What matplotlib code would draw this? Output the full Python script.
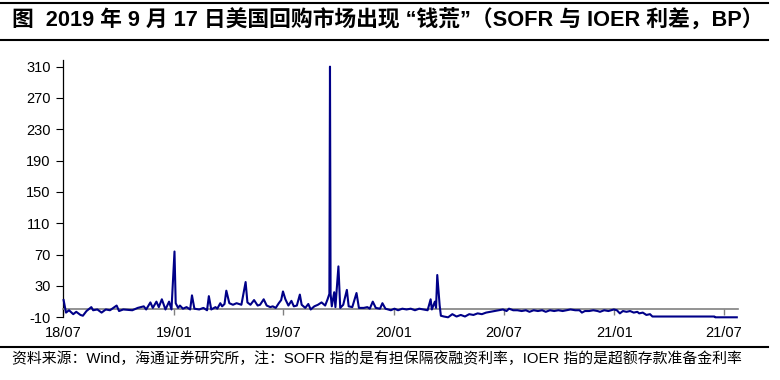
import pandas as pd
import matplotlib
matplotlib.use("Agg")
import matplotlib.pyplot as plt
from matplotlib.lines import Line2D

plt.rcParams['font.family'] = ['Liberation Sans', 'Noto Sans CJK SC']
plt.rcParams['axes.unicode_minus'] = False

# SOFR - IOER 利差 (BP), 读图估计
dates = [
    "2018-07-02", "2018-07-06", "2018-07-11", "2018-07-18", "2018-07-23", "2018-07-30",
    "2018-08-03", "2018-08-09", "2018-08-17", "2018-08-20", "2018-08-27", "2018-09-03",
    "2018-09-10", "2018-09-17", "2018-09-28", "2018-10-02", "2018-10-09", "2018-10-24",
    "2018-11-02", "2018-11-12", "2018-11-16", "2018-11-23", "2018-11-27", "2018-12-03",
    "2018-12-07", "2018-12-12", "2018-12-18", "2018-12-24", "2018-12-28",
    "2019-01-02", "2019-01-04", "2019-01-08", "2019-01-11", "2019-01-16", "2019-01-22",
    "2019-01-28", "2019-01-31", "2019-02-04", "2019-02-12", "2019-02-19", "2019-02-25",
    "2019-02-28", "2019-03-04", "2019-03-11", "2019-03-14", "2019-03-19", "2019-03-22",
    "2019-03-26", "2019-03-29", "2019-04-03", "2019-04-09", "2019-04-15", "2019-04-23",
    "2019-04-30", "2019-05-03", "2019-05-08", "2019-05-14", "2019-05-20", "2019-05-24",
    "2019-05-30", "2019-06-04", "2019-06-10", "2019-06-14", "2019-06-19", "2019-06-24",
    "2019-06-28", "2019-07-01", "2019-07-05", "2019-07-10", "2019-07-15", "2019-07-19",
    "2019-07-24", "2019-07-29", "2019-08-01", "2019-08-07", "2019-08-12", "2019-08-16",
    "2019-08-22", "2019-08-28", "2019-09-03", "2019-09-09", "2019-09-13", "2019-09-16",
    "2019-09-17", "2019-09-18", "2019-09-20", "2019-09-24", "2019-09-26", "2019-10-01",
    "2019-10-04", "2019-10-09", "2019-10-15", "2019-10-18", "2019-10-24", "2019-10-31",
    "2019-11-04", "2019-11-12", "2019-11-18", "2019-11-22", "2019-11-27", "2019-12-02",
    "2019-12-09", "2019-12-13", "2019-12-18", "2019-12-27",
    "2020-01-02", "2020-01-08", "2020-01-15", "2020-01-22", "2020-01-29", "2020-02-05",
    "2020-02-12", "2020-02-19", "2020-02-26", "2020-03-02", "2020-03-04", "2020-03-09",
    "2020-03-11", "2020-03-13", "2020-03-17", "2020-03-19", "2020-03-24", "2020-03-31",
    "2020-04-07", "2020-04-14", "2020-04-21", "2020-04-28", "2020-05-05", "2020-05-12",
    "2020-05-19", "2020-05-26", "2020-06-02", "2020-06-09", "2020-06-16", "2020-06-23",
    "2020-06-30", "2020-07-06", "2020-07-10", "2020-07-17", "2020-07-24", "2020-07-31",
    "2020-08-07", "2020-08-13", "2020-08-20", "2020-08-27", "2020-09-03", "2020-09-09",
    "2020-09-16", "2020-09-23", "2020-09-30", "2020-10-07", "2020-10-14", "2020-10-20",
    "2020-10-28", "2020-11-04", "2020-11-08", "2020-11-13", "2020-11-20", "2020-11-27",
    "2020-12-04", "2020-12-08", "2020-12-15", "2020-12-22", "2020-12-31",
    "2021-01-05", "2021-01-10", "2021-01-15", "2021-01-21", "2021-01-27", "2021-02-02",
    "2021-02-08", "2021-02-11", "2021-02-17", "2021-02-23", "2021-03-01", "2021-03-05",
    "2021-03-15", "2021-04-15", "2021-05-17", "2021-06-16", "2021-06-17", "2021-07-23",
]
spread = [
    12, -4, -1, -6, -3, -7,
    -8, -2, 3, -1, 0, -4,
    0, -1, 5, -2, 0, -1,
    2, 4, 0, 9, 2, 10,
    3, 13, 0, 10, 0,
    74, 8, 2, 5, 1, 3,
    0, 18, 1, 0, 2, -1,
    17, 0, 3, 1, 8, 4,
    7, 24, 8, 6, 8, 6,
    35, 9, 6, 12, 5, 6,
    13, 5, 3, 4, 2, 8,
    12, 23, 13, 5, 11, 4,
    5, 19, 6, 2, 7, 0,
    4, 6, 9, 5, 13, 20,
    310, 20, 4, 22, 3, 55,
    2, 6, 25, 4, 3, 21,
    2, 2, 3, 1, 10, 2,
    1, 8, 1, -1,
    1, -1, 1, 0, 1, -1,
    1, 0, -1, 13, 0, 10,
    2, 44, 5, -8, -9, -10,
    -6, -9, -7, -9, -6, -7,
    -5, -6, -4, -3, -2, -1,
    0, -2, 1, -1, -1, -2,
    -1, -3, -1, -2, -1, -3,
    -1, -2, -1, -2, -1, 0,
    -1, -1, -4, -2, -2, -1,
    -2, -3, -1, -2, 0,
    -1, -5, -2, -3, -2, -4,
    -3, -5, -4, -7, -6, -9,
    -9, -9, -9, -9, -10, -10,
]
tick_dates = ["2018-07-01", "2019-01-01", "2019-07-01", "2020-01-01",
              "2020-07-01", "2021-01-01", "2021-07-01"]
tick_labels = ["18/07", "19/01", "19/07", "20/01", "20/07", "21/01", "21/07"]
y_ticks = [-10, 30, 70, 110, 150, 190, 230, 270, 310]

x = pd.to_datetime(dates)
xt = pd.to_datetime(tick_dates)

fig = plt.figure(figsize=(7.8, 3.8), dpi=100)
ax = fig.add_axes([63 / 780, 1 - 317.3 / 380, 675 / 780, 257.3 / 380])

ax.plot(x, spread, color="#000088", lw=1.5, zorder=3, clip_on=False)

ax.set_xlim(pd.Timestamp("2018-07-01"), pd.Timestamp("2021-07-25"))
ax.set_ylim(-10, 318.5)
ax.set_yticks(y_ticks)
ax.tick_params(axis="y", direction="out", length=5, width=0.8, labelsize=10.5, pad=4)

# 0 轴 (灰色) 带刻度
ax.spines["bottom"].set_position(("data", 0))
ax.spines["bottom"].set_color("#808080")
ax.spines["bottom"].set_linewidth(1.2)
ax.spines["top"].set_visible(False)
ax.spines["right"].set_visible(False)
ax.spines["left"].set_linewidth(0.9)
ax.set_xticks(xt)
ax.tick_params(axis="x", direction="out", length=4, width=1, color="#808080",
               labelbottom=False)
for d, lab in zip(xt, tick_labels):
    ax.text(d, -0.035, lab, transform=ax.get_xaxis_transform(),
            ha="center", va="top", fontsize=10.5)

# 标题与来源
fig.add_artist(Line2D([0, 0.985], [1 - 3 / 380] * 2, color="black", lw=1.5))
fig.add_artist(Line2D([0, 0.985], [1 - 40 / 380] * 2, color="black", lw=1.5))
fig.add_artist(Line2D([0, 0.985], [1 - 347 / 380] * 2, color="black", lw=1.5))
fig.text(12 / 780, 1 - 21 / 380,
         "图  2019 年 9 月 17 日美国回购市场出现 “钱荒”（SOFR 与 IOER 利差，BP）",
         fontsize=15.7, fontweight="bold", va="center", ha="left")
fig.text(12 / 780, 1 - 359 / 380,
         "资料来源：Wind，海通证券研究所，注：SOFR 指的是有担保隔夜融资利率，IOER 指的是超额存款准备金利率",
         fontsize=10.7, va="center", ha="left")

fig.savefig("out.png", dpi=100)
